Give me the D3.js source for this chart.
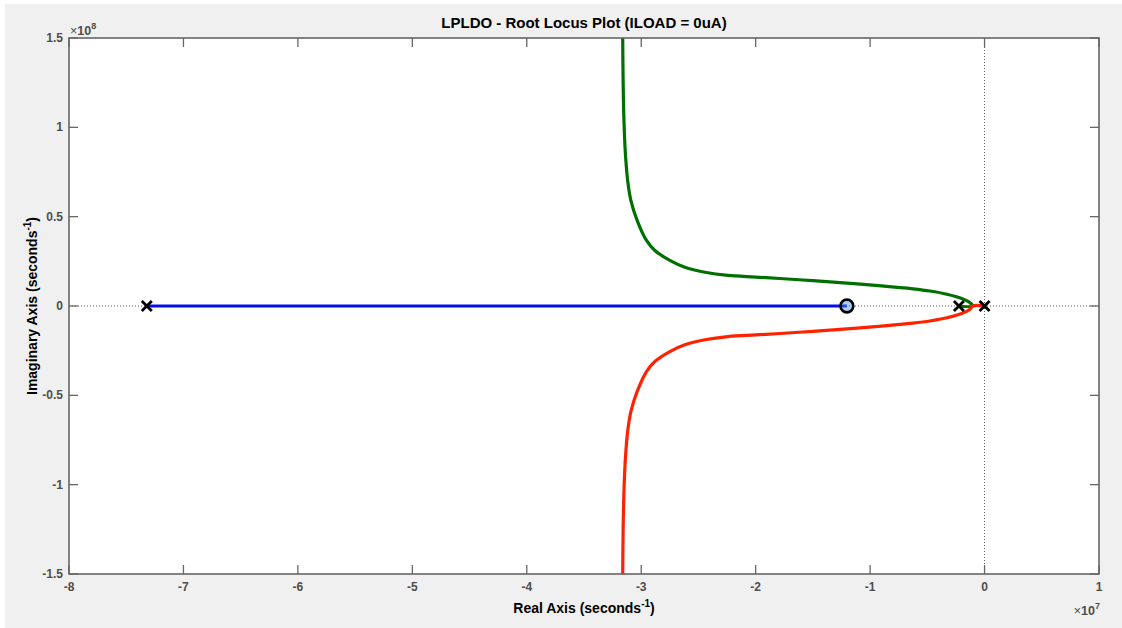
<!DOCTYPE html>
<html>
<head>
<meta charset="utf-8">
<script src="https://cdn.jsdelivr.net/npm/d3@7"></script>
<style>
  body { margin: 0; background: #fff; }
  text { font-family: "Liberation Sans", Arial, sans-serif; }
</style>
</head>
<body>
<div id="root"></div>
<script>
const width = 1122;
const height = 628;
const margin = {left: 69, right: 23, top: 38, bottom: 54};

// tick values (real axis in 1e7, imaginary in 1e8)
const xTicks = [-8, -7, -6, -5, -4, -3, -2, -1, 0, 1];
const yTicks = [-1.5, -1, -0.5, 0, 0.5, 1, 1.5];

// open loop poles and zeros (seconds^-1)
const poleRe = [-7.32e7, -0.224e7, 0];
const zeroRe = [-1.203e7];

// branch 1: real axis, far pole -> zero
const blueRe = [-7.32e7, -1.203e7];
const blueIm = [0, 0];

// branch 2: pole -> breakaway -> upper half plane
const greenRe = [-0.224e7, -0.104e7, -0.13e7, -0.2e7, -0.329e7, -0.478e7, -0.626e7, -0.9e7, -1.203e7,
  -1.5e7, -1.789e7, -2.0e7, -2.243e7, -2.444e7, -2.619e7, -2.75e7, -2.881e7, -2.954e7, -3.035e7, -3.09e7,
  -3.118e7, -3.138e7, -3.151e7, -3.158e7, -3.162e7];
const greenIm = [0, 0, 0.02e8, 0.042e8, 0.066e8, 0.084e8, 0.096e8, 0.1125e8, 0.128e8,
  0.1415e8, 0.154e8, 0.162e8, 0.171e8, 0.189e8, 0.217e8, 0.255e8, 0.311e8, 0.367e8, 0.478e8, 0.59e8,
  0.70e8, 0.85e8, 1.04e8, 1.25e8, 1.52e8];

// branch 3: origin pole -> breakaway -> lower half plane
const redRe = [0, -0.104e7, -0.13e7, -0.2e7, -0.329e7, -0.478e7, -0.626e7, -0.9e7, -1.203e7,
  -1.5e7, -1.789e7, -2.0e7, -2.243e7, -2.444e7, -2.619e7, -2.75e7, -2.881e7, -2.954e7, -3.035e7, -3.09e7,
  -3.118e7, -3.138e7, -3.151e7, -3.158e7, -3.162e7];
const redIm = [0, 0, -0.02e8, -0.042e8, -0.066e8, -0.084e8, -0.096e8, -0.1125e8, -0.128e8,
  -0.1415e8, -0.154e8, -0.162e8, -0.171e8, -0.189e8, -0.217e8, -0.255e8, -0.311e8, -0.367e8, -0.478e8, -0.59e8,
  -0.70e8, -0.85e8, -1.04e8, -1.25e8, -1.52e8];

const svg = d3.select("#root").append("svg")
  .attr("width", width)
  .attr("height", height);

// figure background
svg.append("rect")
  .attr("x", 5).attr("y", 4)
  .attr("width", width - 5).attr("height", height - 4)
  .attr("fill", "#f0f0f0");

const x = d3.scaleLinear().domain([-8e7, 1e7]).range([margin.left, width - margin.right]);
const y = d3.scaleLinear().domain([-1.5e8, 1.5e8]).range([height - margin.bottom, margin.top]);

const pw = x.range()[1] - x.range()[0];
const ph = y.range()[0] - y.range()[1];

svg.append("rect")
  .attr("x", margin.left).attr("y", margin.top)
  .attr("width", pw).attr("height", ph)
  .attr("fill", "#fff");

svg.append("clipPath").attr("id", "clip")
  .append("rect")
  .attr("x", margin.left).attr("y", margin.top)
  .attr("width", pw).attr("height", ph);

const plot = svg.append("g").attr("clip-path", "url(#clip)");

// dotted zero lines
plot.append("line")
  .attr("x1", margin.left).attr("x2", margin.left + pw)
  .attr("y1", y(0)).attr("y2", y(0))
  .attr("stroke", "#555").attr("stroke-width", 1).attr("stroke-dasharray", "1,2");
plot.append("line")
  .attr("x1", x(0)).attr("x2", x(0))
  .attr("y1", margin.top).attr("y2", margin.top + ph)
  .attr("stroke", "#555").attr("stroke-width", 1).attr("stroke-dasharray", "1,2");

const line = d3.line()
  .x(d => x(d[0]))
  .y(d => y(d[1]))
  .curve(d3.curveCatmullRom.alpha(0.5));

const branches = [
  {re: blueRe, im: blueIm, color: "#0010f0"},
  {re: greenRe, im: greenIm, color: "#007000"},
  {re: redRe, im: redIm, color: "#ff2200"}
];

plot.selectAll(".branch")
  .data(branches).enter()
  .append("path")
    .attr("class", "branch")
    .attr("d", b => line(d3.zip(b.re, b.im)))
    .attr("fill", "none")
    .attr("stroke", b => b.color)
    .attr("stroke-width", 3.2)
    .attr("stroke-linejoin", "round");

// zero marker
plot.selectAll(".zero")
  .data(zeroRe).enter()
  .append("circle")
    .attr("class", "zero")
    .attr("cx", d => x(d)).attr("cy", y(0))
    .attr("r", 6.4)
    .attr("fill", "#4a90e8")
    .attr("fill-opacity", 0.45)
    .attr("stroke", "#000")
    .attr("stroke-width", 2.6);

// pole markers
const s = 5;
plot.selectAll(".pole")
  .data(poleRe).enter()
  .append("path")
    .attr("class", "pole")
    .attr("d", d => `M${x(d) - s},${y(0) - s}L${x(d) + s},${y(0) + s}M${x(d) - s},${y(0) + s}L${x(d) + s},${y(0) - s}`)
    .attr("stroke", "#000")
    .attr("stroke-width", 2.8);

// axes (box with inward ticks)
const axisColor = "#666";
const tickLen = 9;
const axG = svg.append("g");

axG.append("rect")
  .attr("x", margin.left).attr("y", margin.top)
  .attr("width", pw).attr("height", ph)
  .attr("fill", "none")
  .attr("stroke", axisColor)
  .attr("stroke-width", 1.6);

xTicks.forEach(t => {
  const px = x(t * 1e7);
  axG.append("line").attr("x1", px).attr("x2", px)
    .attr("y1", margin.top).attr("y2", margin.top + tickLen)
    .attr("stroke", axisColor).attr("stroke-width", 1.3);
  axG.append("line").attr("x1", px).attr("x2", px)
    .attr("y1", margin.top + ph).attr("y2", margin.top + ph - tickLen)
    .attr("stroke", axisColor).attr("stroke-width", 1.3);
  axG.append("text")
    .attr("x", px).attr("y", margin.top + ph + 17)
    .attr("text-anchor", "middle")
    .attr("fill", "#4d4d4d")
    .style("font-size", "12px").style("font-weight", "bold")
    .text(t);
});

yTicks.forEach(t => {
  const py = y(t * 1e8);
  axG.append("line").attr("x1", margin.left).attr("x2", margin.left + tickLen)
    .attr("y1", py).attr("y2", py)
    .attr("stroke", axisColor).attr("stroke-width", 1.3);
  axG.append("line").attr("x1", margin.left + pw).attr("x2", margin.left + pw - tickLen)
    .attr("y1", py).attr("y2", py)
    .attr("stroke", axisColor).attr("stroke-width", 1.3);
  axG.append("text")
    .attr("x", margin.left - 6).attr("y", py + 4)
    .attr("text-anchor", "end")
    .attr("fill", "#4d4d4d")
    .style("font-size", "12px").style("font-weight", "bold")
    .text(t);
});

// exponent labels
const expY = svg.append("text")
  .attr("x", margin.left + 1).attr("y", margin.top - 3)
  .attr("fill", "#4d4d4d")
  .style("font-size", "12.5px").style("font-weight", "bold");
expY.append("tspan").style("font-weight", "normal").text("\u00d7");
expY.append("tspan").text("10");
expY.append("tspan").attr("dy", -6).style("font-size", "9px").text("8");

const expX = svg.append("text")
  .attr("x", margin.left + pw + 1).attr("y", margin.top + ph + 41)
  .attr("text-anchor", "end")
  .attr("fill", "#4d4d4d")
  .style("font-size", "12.5px").style("font-weight", "bold");
expX.append("tspan").style("font-weight", "normal").text("\u00d7");
expX.append("tspan").text("10");
expX.append("tspan").attr("dy", -6).style("font-size", "9px").text("7");

// title
svg.append("text")
  .attr("x", margin.left + pw / 2).attr("y", 28)
  .attr("text-anchor", "middle")
  .attr("fill", "#000")
  .style("font-size", "15px").style("font-weight", "bold")
  .text("LPLDO - Root Locus Plot (ILOAD = 0uA)");

// axis labels
const xl = svg.append("text")
  .attr("x", margin.left + pw / 2).attr("y", 613)
  .attr("text-anchor", "middle")
  .attr("fill", "#000")
  .style("font-size", "14px").style("font-weight", "bold");
xl.append("tspan").text("Real Axis (seconds");
xl.append("tspan").attr("dy", -6).style("font-size", "10px").text("-1");
xl.append("tspan").attr("dy", 6).text(")");

const yl = svg.append("text")
  .attr("transform", `translate(37,${margin.top + ph / 2}) rotate(-90)`)
  .attr("text-anchor", "middle")
  .attr("fill", "#000")
  .style("font-size", "14px").style("font-weight", "bold");
yl.append("tspan").text("Imaginary Axis (seconds");
yl.append("tspan").attr("dy", -6).style("font-size", "10px").text("-1");
yl.append("tspan").attr("dy", 6).text(")");
</script>
</body>
</html>
